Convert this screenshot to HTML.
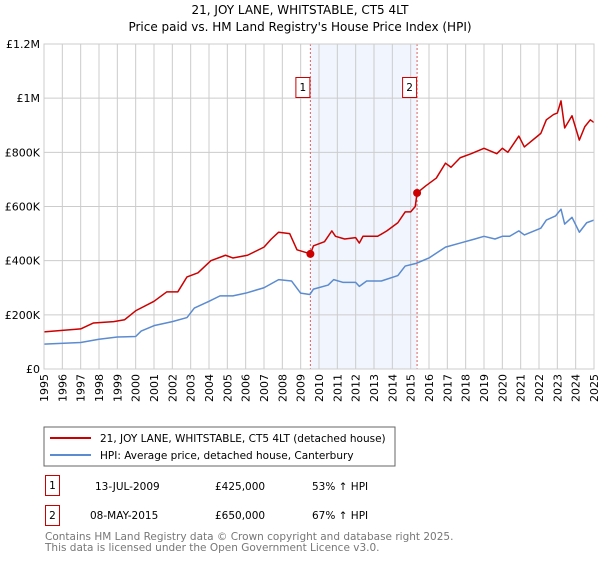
<!DOCTYPE html>
<html><head><meta charset="utf-8"><style>
body{margin:0;background:#fff;font-family:"DejaVu Sans","Liberation Sans",sans-serif;}
svg text{font-family:"DejaVu Sans","Liberation Sans",sans-serif;}
</style></head><body>
<svg width="600" height="560" viewBox="0 0 600 560">
<text x="300" y="14" font-size="12" text-anchor="middle">21, JOY LANE, WHITSTABLE, CT5 4LT</text>
<text x="300" y="31" font-size="12" text-anchor="middle">Price paid vs. HM Land Registry's House Price Index (HPI)</text>
<g id="plot"></g>
<rect x="44" y="427" width="351" height="39" fill="#fff" stroke="#666"/>
<line x1="50" y1="438" x2="91" y2="438" stroke="#cc0000" stroke-width="2"/>
<text x="100" y="442" font-size="10.5">21, JOY LANE, WHITSTABLE, CT5 4LT (detached house)</text>
<line x1="50" y1="455" x2="91" y2="455" stroke="#5b8bd0" stroke-width="2"/>
<text x="100" y="459" font-size="10.5">HPI: Average price, detached house, Canterbury</text>
<g font-size="10.5">
<rect x="45.5" y="475.5" width="14" height="20" fill="none" stroke="#cc0000"/>
<text x="52.5" y="489" text-anchor="middle">1</text>
<text x="95" y="490">13-JUL-2009</text><text x="215" y="490">£425,000</text><text x="312" y="490">53% ↑ HPI</text>
<rect x="45.5" y="505.5" width="14" height="20" fill="none" stroke="#cc0000"/>
<text x="52.5" y="519" text-anchor="middle">2</text>
<text x="90" y="519">08-MAY-2015</text><text x="215" y="519">£650,000</text><text x="312" y="519">67% ↑ HPI</text>
</g>
<text x="45" y="540" font-size="10.5" fill="#777">Contains HM Land Registry data © Crown copyright and database right 2025.</text>
<text x="45" y="551" font-size="10.5" fill="#777">This data is licensed under the Open Government Licence v3.0.</text>
</svg>
<script>
const yTicks=[0,200000,400000,600000,800000,1000000,1200000];
const yTickLabels=["£0","£200K","£400K","£600K","£800K","£1M","£1.2M"];
const years=[1995,1996,1997,1998,1999,2000,2001,2002,2003,2004,2005,2006,2007,2008,2009,2010,2011,2012,2013,2014,2015,2016,2017,2018,2019,2020,2021,2022,2023,2024,2025];
const saleDates=[2009.53,2015.35];
const salePrices=[425000,650000];
const saleLabels=["1","2"];
const redT=[1995,1997,1997.7,1998.8,1999.4,2000,2001,2001.7,2002.3,2002.8,2003.4,2004.1,2004.9,2005.3,2006.1,2007,2007.4,2007.8,2008.4,2008.8,2009.3,2009.53,2009.7,2010.3,2010.7,2010.9,2011.4,2012,2012.2,2012.4,2013.2,2013.7,2014.3,2014.7,2015,2015.25,2015.35,2015.8,2016.4,2016.9,2017.2,2017.7,2018.3,2019,2019.7,2020,2020.3,2020.9,2021.2,2022.1,2022.4,2022.8,2023,2023.2,2023.4,2023.8,2024.2,2024.5,2024.8,2025];
const redV=[137,148,170,175,182,215,250,285,285,340,355,400,420,410,420,450,480,505,500,440,430,425,455,470,510,490,480,485,465,490,490,510,540,580,580,600,650,675,705,760,745,780,795,815,795,815,800,860,820,870,920,940,945,990,890,935,845,895,920,910];
const blueT=[1995,1997,1998,1999,2000,2000.3,2001,2002,2002.8,2003.2,2004,2004.6,2005.3,2006,2007,2007.8,2008.5,2009,2009.5,2009.7,2010.5,2010.8,2011.3,2012,2012.2,2012.6,2013.4,2014.3,2014.7,2015.3,2016,2016.9,2017.7,2018.5,2019,2019.6,2020,2020.4,2020.9,2021.2,2022.1,2022.4,2022.9,2023.2,2023.4,2023.8,2024.2,2024.6,2025];
const blueV=[92,98,110,118,120,140,160,175,190,225,250,270,270,280,300,330,325,280,275,295,310,330,320,320,305,325,325,345,380,390,410,450,465,480,490,480,490,490,510,495,520,550,565,590,535,560,505,540,550];
const X0=44,X1=594,Y0=369,Y1=44;
const xs=t=>X0+(t-1995)/30*(X1-X0);
const ys=v=>Y0-v/1200000*(Y0-Y1);
const NS="http://www.w3.org/2000/svg";
const g=document.getElementById('plot');
function mk(tag,attrs){const e=document.createElementNS(NS,tag);for(const k in attrs)e.setAttribute(k,attrs[k]);g.appendChild(e);return e;}
let e=mk('rect',{x:xs(saleDates[0]),y:Y1,width:xs(saleDates[1])-xs(saleDates[0]),height:Y0-Y1,fill:'#eef3fc',opacity:0.8});


years.forEach(yr=>{
 let l=mk('line',{x1:xs(yr),x2:xs(yr),y1:Y1,y2:Y0,stroke:'#ccc','stroke-width':1});
 
 
 let t=mk('text',{x:0,y:0,'font-size':11,'text-anchor':'end',transform:`translate(${xs(yr)+4},${Y0+5}) rotate(-90)`});
 t.textContent=yr;
 
 
});
yTicks.forEach((v,i)=>{
 let l=mk('line',{x1:X0,x2:X1,y1:ys(v),y2:ys(v),stroke:'#ccc','stroke-width':1});
 
 
 let t=mk('text',{x:X0-4,y:ys(v)+4,'font-size':11,'text-anchor':'end'});
 t.textContent=yTickLabels[i];
 
 
});
saleDates.forEach((d,i)=>{
 let l=mk('line',{x1:xs(d),x2:xs(d),y1:Y1,y2:Y0,stroke:'#e06060','stroke-width':1,'stroke-dasharray':'2,2'});
 
 
 let r=mk('rect',{x:xs(d)-14.5,y:77.5,width:14,height:20,fill:'#fff',stroke:'#cc0000'});
 
 
 let t=mk('text',{x:xs(d)-7.5,y:91,'font-size':10.5,'text-anchor':'middle'});
 t.textContent=saleLabels[i];
 
 
});
function line(T,V,col,name){
 const p=mk('polyline',{points:T.map((t,i)=>xs(t)+','+ys(V[i]*1000)).join(' '),fill:'none',stroke:col,'stroke-width':1.5,'stroke-linejoin':'round'});
 
 
}
line(blueT,blueV,'#5b8bd0','hpi-line');
line(redT,redV,'#cc0000','property-line');
saleDates.forEach((d,i)=>{
 let c=mk('circle',{cx:xs(d),cy:ys(salePrices[i]),r:4,fill:'#cc0000'});
 
 
});
let ax=mk('rect',{x:X0,y:Y1,width:X1-X0,height:Y0-Y1,fill:'none',stroke:'#ccc'});


</script>
</body></html>
